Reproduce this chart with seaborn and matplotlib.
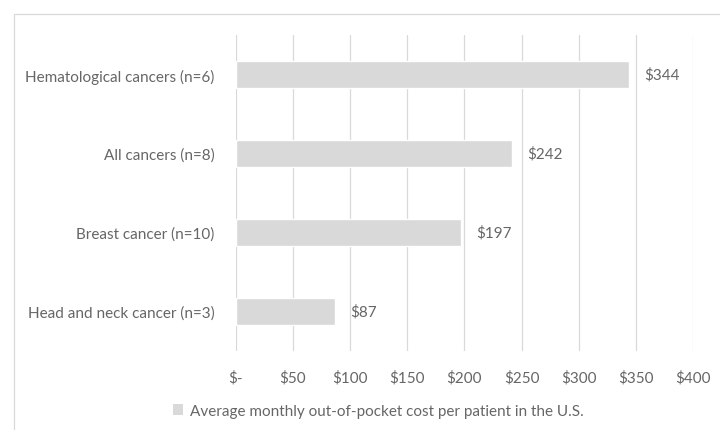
import matplotlib
matplotlib.use("Agg")
import matplotlib.pyplot as plt
import seaborn as sns
import pandas as pd
from matplotlib.patches import Rectangle, Patch

categories = ["Hematological cancers (n=6)", "All cancers (n=8)",
              "Breast cancer (n=10)", "Head and neck cancer (n=3)"]
values = [344, 242, 197, 87]
value_labels = ["$344", "$242", "$197", "$87"]
xticks = [0, 50, 100, 150, 200, 250, 300, 350, 400]
xtick_labels = ["$-", "$50", "$100", "$150", "$200", "$250", "$300", "$350", "$400"]
series_name = "Average monthly out-of-pocket cost per patient in the U.S."

sns.set_theme(style="white")
plt.rcParams['font.family'] = ['Lato', 'DejaVu Sans']
text_color = "#666666"
bar_color = "#d9d9d9"
grid_color = "#d9d9d9"
fs = 11

df = pd.DataFrame({"category": categories, "value": values})

fig = plt.figure(figsize=(7.2, 4.31), dpi=100)
ax = fig.add_axes([235.7/720, 1-352/431, (693-235.7)/720, (352-36)/431])

sns.barplot(data=df, x="value", y="category", orient="h", color=bar_color,
            width=0.35, ax=ax, saturation=1, zorder=3)

ax.set_xlim(0, 400)
ax.set_xticks(xticks)
ax.set_xticklabels(xtick_labels)
ax.xaxis.grid(True, color=grid_color, linewidth=0.9, zorder=0)
ax.set_axisbelow(True)
for s in ax.spines.values():
    s.set_visible(False)
ax.tick_params(axis="x", length=0, pad=14, labelsize=fs, labelcolor=text_color)
ax.tick_params(axis="y", length=0, pad=15, labelsize=fs, labelcolor=text_color)
ax.set_xlabel("")
ax.set_ylabel("")

for i, (v, lab) in enumerate(zip(values, value_labels)):
    ax.annotate(lab, xy=(v, i), xytext=(15, 0), textcoords="offset pixels",
                ha="left", va="center", fontsize=fs, color=text_color)

# chart frame
fig.patches.append(Rectangle((14/720, -0.1), 1.2, 1-15/431+0.1, transform=fig.transFigure,
                             fill=False, edgecolor="#d9d9d9", linewidth=0.9))

fig.legend(handles=[Patch(facecolor=bar_color, edgecolor="none", label=series_name)],
           loc="center", bbox_to_anchor=(378/720, 1-412/431), frameon=False,
           fontsize=fs, labelcolor=text_color, handlelength=0.7, handleheight=0.7,
           handletextpad=0.4)

fig.savefig("out.png", dpi=100)
